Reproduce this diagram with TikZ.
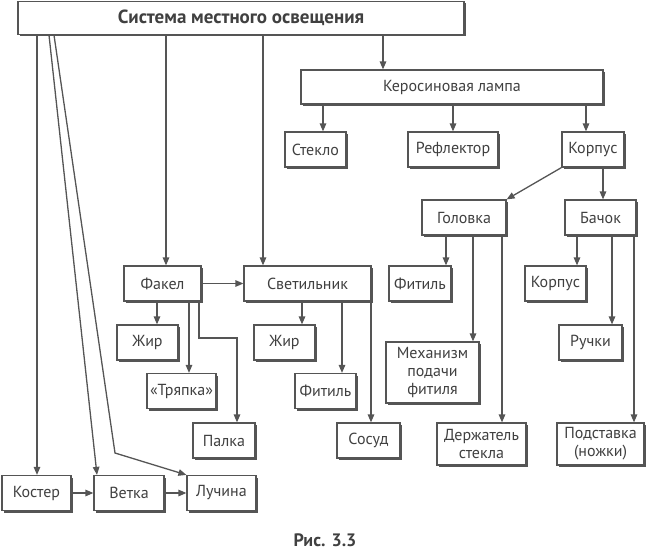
\documentclass[tikz,border=0pt]{standalone}
\usepackage{fontspec}
\setmainfont{PT Sans}
\usetikzlibrary{arrows.meta,shadows}

\definecolor{linegray}{HTML}{555555}
\definecolor{textgray}{HTML}{404040}

\tikzset{
  blok/.style={draw=linegray, fill=white, line width=1.2pt, text=textgray,
    font=\fontsize{16}{18}\selectfont, align=center, inner sep=1pt,
    minimum height=35pt,
    drop shadow={shadow xshift=2pt, shadow yshift=-2pt, fill=linegray, opacity=1}},
  arr/.style={draw=linegray, line width=1.3pt, -{Triangle[length=8pt,width=6.5pt]}},
  lin/.style={draw=linegray, line width=1.3pt}
}

\begin{document}
\begin{tikzpicture}[x=1pt, y=-1pt]
    \useasboundingbox (0,0) rectangle (650,551);

    % top level
    \node[blok, minimum width=446pt, minimum height=33pt,
      font=\bfseries\fontsize{19}{21}\selectfont] (main) at (241,18) {Система местного освещения};
    \node[blok, minimum width=302pt, minimum height=34pt] (kero) at (452,87) {Керосиновая лампа};

    % kerosene lamp parts
    \node[blok, minimum width=61pt] (steklo) at (315.5,149.5) {Стекло};
    \node[blok, minimum width=90pt] (reflektor) at (453,149.5) {Рефлектор};
    \node[blok, minimum width=62pt] (korpus) at (593,149.5) {Корпус};
    \node[blok, minimum width=84pt] (golovka) at (464,217.5) {Головка};
    \node[blok, minimum width=71pt] (bachok) at (600.5,217.5) {Бачок};
    \node[blok, minimum width=62pt] (fitilG) at (420,283.5) {Фитиль};
    \node[blok, minimum width=61pt] (korpusB) at (555.5,283.5) {Корпус};
    \node[blok, minimum width=63pt] (ruchki) at (590.5,342.5) {Ручки};
    \node[blok, minimum width=93pt, minimum height=61pt] (mekh) at (432.5,372.5) {Механизм\\подачи\\фитиля};
    \node[blok, minimum width=89pt, minimum height=42pt] (derzh) at (481.5,444) {Держатель\\стекла};
    \node[blok, minimum width=87pt, minimum height=42pt] (podst) at (600.5,444) {Подставка\\(ножки)};

    % torch and oil lamp
    \node[blok, minimum width=77pt] (fakel) at (162.5,283.5) {Факел};
    \node[blok, minimum width=127pt] (svet) at (307.5,283.5) {Светильник};
    \node[blok, minimum width=61pt] (zhirF) at (147.5,342.5) {Жир};
    \node[blok, minimum width=69pt] (tryapka) at (181.5,391) {«Тряпка»};
    \node[blok, minimum width=62pt] (palka) at (224,440.5) {Палка};
    \node[blok, minimum width=61pt] (zhirS) at (284.5,342.5) {Жир};
    \node[blok, minimum width=61pt] (fitilS) at (325.5,391) {Фитиль};
    \node[blok, minimum width=63pt] (sosud) at (368.5,440.5) {Сосуд};

    % bottom row
    \node[blok, minimum width=69pt] (koster) at (36.5,493) {Костер};
    \node[blok, minimum width=70pt] (vetka) at (129,493) {Ветка};
    \node[blok, minimum width=69pt] (luchina) at (221.5,493) {Лучина};

    \node[text=textgray, font=\bfseries\fontsize{18}{20}\selectfont] (ris) at (325,540) {Рис. 3.3};

    % connectors from the main box
    \coordinate (lbend) at (115,453);
    \draw[arr] (37,0 |- main.south) -- (37,0 |- koster.north);
    \draw[arr] (49,0 |- main.south) -- (97,0 |- vetka.north);
    \draw[arr] (54,0 |- main.south) -- (lbend) -- (luchina.north west);
    \draw[arr] (166,0 |- main.south) -- (166,0 |- fakel.north);
    \draw[arr] (263,0 |- main.south) -- (263,0 |- svet.north);
    \draw[arr] (383,0 |- main.south) -- (383,0 |- kero.north);

    % kerosene lamp
    \draw[arr] (323,0 |- kero.south) -- (323,0 |- steklo.north);
    \draw[arr] (453,0 |- kero.south) -- (453,0 |- reflektor.north);
    \draw[arr] (586,0 |- kero.south) -- (586,0 |- korpus.north);
    \draw[arr] (korpus.south west) -- (golovka.north east);
    \draw[arr] (603,0 |- korpus.south) -- (603,0 |- bachok.north);
    \draw[arr] (446,0 |- golovka.south) -- (446,0 |- fitilG.north);
    \draw[arr] (473,0 |- golovka.south) -- (473,0 |- mekh.north);
    \draw[arr] (502,0 |- golovka.south) -- (502,0 |- derzh.north);
    \draw[arr] (577,0 |- bachok.south) -- (577,0 |- korpusB.north);
    \draw[arr] (612,0 |- bachok.south) -- (612,0 |- ruchki.north);
    \draw[arr] (634,0 |- bachok.south) -- (634,0 |- podst.north);

    % torch and oil lamp
    \draw[arr] (fakel.east) -- (svet.west);
    \draw[arr] (157,0 |- fakel.south) -- (157,0 |- zhirF.north);
    \draw[arr] (189,0 |- fakel.south) -- (189,0 |- tryapka.north);
    \draw[arr] (199,0 |- fakel.south) |- (237,338) -- (237,0 |- palka.north);
    \draw[arr] (302,0 |- svet.south) -- (302,0 |- zhirS.north);
    \draw[arr] (342,0 |- svet.south) -- (342,0 |- fitilS.north);
    \draw[arr] (371,0 |- svet.south) -- (371,0 |- sosud.north);

    % bottom row
    \draw[arr] (koster) -- (vetka);
    \draw[arr] (vetka) -- (luchina);
\end{tikzpicture}
\end{document}
